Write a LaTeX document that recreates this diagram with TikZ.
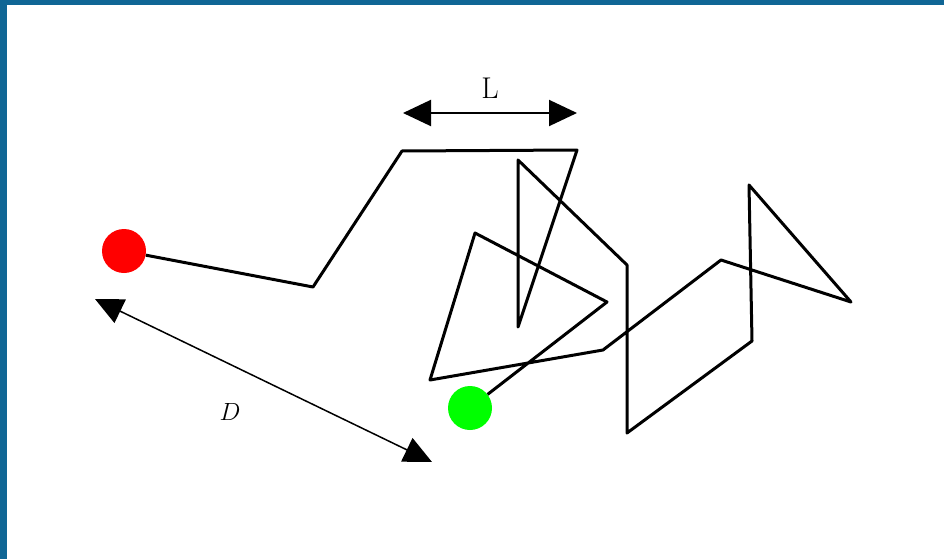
\documentclass[tikz,border=0pt]{standalone}
\usepackage{tikz}
\usetikzlibrary{arrows.meta}
\definecolor{frameblue}{HTML}{106695}

\begin{document}
\begin{tikzpicture}[x=1pt, y=-1pt,
  walk/.style={draw=black, line width=3pt, line join=round},
  bead/.style={circle, minimum size=44pt, inner sep=0pt},
  measure/.style={draw, {Triangle[length=28pt,width=26pt]}-{Triangle[length=28pt,width=26pt]}},
  lbl/.style={font=\fontsize{30}{34}\selectfont, inner sep=0pt}]

  % frame
  \useasboundingbox (0,0) rectangle (944,559);
  \fill[frameblue] (0,0) rectangle (944,559);
  \fill[white] (7,5) rectangle (944,559);

  % end points of the chain
  \node [bead, fill=red] (start) at (124,251) {};
  \node [bead, fill=green] (finish) at (470,408) {};

  % vertices of the chain
  \foreach \n/\x/\y in {1/313/287, 2/402/151, 3/577/150, 4/518/327, 5/518/160,
      6/627/265, 7/627/433, 8/752/341, 9/749/185, 10/851/302, 11/721/260,
      12/603/350, 13/430/380, 14/475/233, 15/607/302}
    \coordinate (p\n) at (\x,\y);

  \draw [walk] (start) -- (p1) -- (p2) -- (p3) -- (p4) -- (p5) -- (p6) -- (p7)
    -- (p8) -- (p9) -- (p10) -- (p11) -- (p12) -- (p13) -- (p14) -- (p15) -- (finish);

  % segment length L
  \coordinate (lleft) at (403,113);
  \coordinate (lright) at (577,113);
  \draw [measure, line width=2pt] (lleft) -- (lright);
  \node [lbl] (lenlabel) at (490,88) {L};

  % end-to-end distance D
  \coordinate (dtop) at (95,299);
  \coordinate (dbottom) at (432,462);
  \draw [measure, line width=1.5pt] (dtop) -- (dbottom);
  \node [lbl] (distlabel) at (230,412) {$D$};
\end{tikzpicture}
\end{document}
